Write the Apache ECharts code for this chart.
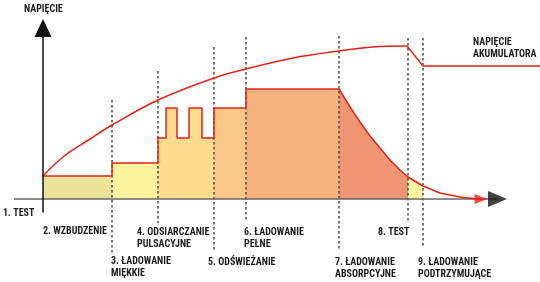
<!DOCTYPE html>
<html><head><meta charset="utf-8">
<script src="https://cdn.jsdelivr.net/npm/echarts@6/dist/echarts.min.js"></script>
<style>html,body{margin:0;padding:0;background:#fff}#c{width:540px;height:282px}</style>
</head><body><div id="c"></div>
<script>
// Stage boundaries (time units)
const stageEdges = [0, 69, 115, 171, 203, 296, 365, 380];
const stageColors = ['#E9E39C', '#FBF29C', '#FDDB8F', '#F9C787', '#F5B27F', '#EE9573', '#F8F3A0'];
// Charging current profile [time, value]
const current = [
  [0, 23], [69, 23], [69, 36], [115, 36], [115, 61], [123, 61], [123, 91], [134, 91],
  [134, 61], [146, 61], [146, 91], [159, 91], [159, 61], [171, 61], [171, 91], [203, 91],
  [203, 110], [296, 110], [307, 92], [317, 77], [327, 63], [337, 51], [347, 39], [357, 29],
  [365, 22], [380, 13], [397, 6], [417, 2], [432, 0.3], [438, 0]
];
// Battery voltage [time, value]
const voltageRise = [[0, 23], [20, 42], [47, 60], [69, 74], [115, 99], [171, 121], [203, 130], [250, 141], [296, 148], [330, 152], [364, 153]];
const voltageFloat = [[364, 153], [380, 133], [497, 133]];
// Stage divider lines
const dividerX = [69, 115, 171, 203, 296, 365, 380];
const dividerTop = [99, 128, 152, 162, 163, 161, 161];
const dividerBottom = [-55, -24, -51, -21, -51, -24, -49];
// Axis ranges
const xStart = -29, xArrow = 454.5, xEnd = 497;
const yRange = [-13, 171];
// Texts
const stageLabels = [
  '1. TEST', '2. WZBUDZENIE', '3. ŁADOWANIE\nMIĘKKIE', '4. ODSIARCZANIE\nPULSACYJNE',
  '5. ODŚWIEŻANIE', '6. ŁADOWANIE\nPEŁNE', '7. ŁADOWANIE\nABSORPCYJNE', '8. TEST',
  '9. ŁADOWANIE\nPODTRZYMUJĄCE'
];
const axisTitle = 'NAPIĘCIE';
const voltageTitle = 'NAPIĘCIE\nAKUMULATORA';

const labelPos = [[3, 213], [43, 231], [111, 261], [137, 232], [208, 262], [244, 232], [335, 262], [378, 232], [418, 262]];
const FONT = "bold 10px 'Liberation Sans Narrow','Arial Narrow','Roboto Condensed',sans-serif";
const RED = '#E2231A';

function stagePoints(a, b) {
  let first = null, last = null;
  const inner = [];
  current.forEach(p => {
    if (p[0] === a) first = p;
    if (p[0] === b && last === null) last = p;
    if (p[0] > a && p[0] < b) inner.push(p);
  });
  return [first].concat(inner, [last]).filter(Boolean);
}

const series = [];
for (let i = 0; i < stageEdges.length - 1; i++) {
  series.push({
    type: 'line', data: stagePoints(stageEdges[i], stageEdges[i + 1]), symbol: 'none',
    lineStyle: { width: 0 }, areaStyle: { color: stageColors[i], opacity: 1 }, z: 1, silent: true
  });
}
dividerX.forEach((x, i) => {
  series.push({
    type: 'line', data: [[x, dividerTop[i]], [x, dividerBottom[i]]], symbol: 'none', clip: false,
    lineStyle: { color: '#4a4a4a', width: 1.5, type: [2.5, 2.5] }, z: 4, silent: true
  });
});
// x axis line
series.push({ type: 'line', data: [[xStart, 0], [xArrow, 0]], symbol: 'none', clip: false, lineStyle: { color: '#666', width: 1.5 }, z: 5, silent: true });
series.push({ type: 'line', data: current, symbol: 'none', lineStyle: { color: RED, width: 1.5 }, z: 5 });
series.push({ type: 'line', data: voltageRise, smooth: 0.35, symbol: 'none', lineStyle: { color: RED, width: 1.5 }, z: 5 });
series.push({ type: 'line', data: voltageFloat, symbol: 'none', clip: false, lineStyle: { color: RED, width: 1.5 }, z: 5 });
// arrowheads
series.push({ type: 'scatter', data: [current[current.length - 1]], symbol: 'triangle', symbolRotate: -90, symbolSize: [10, 13], itemStyle: { color: RED }, z: 7, clip: false, silent: true });
series.push({ type: 'scatter', data: [[xArrow, 0]], symbol: 'triangle', symbolRotate: -90, symbolSize: [16, 19], itemStyle: { color: '#111' }, z: 7, clip: false, silent: true });

const graphic = stageLabels.map((t, i) => ({
  type: 'text', x: labelPos[i][0], y: labelPos[i][1] - 6.25,
  style: { text: t, font: FONT, fill: '#1e1e1e', verticalAlign: 'top', lineHeight: 12.5 }
}));
graphic.push({ type: 'text', x: 24, y: 9 - 6.25, style: { text: axisTitle, font: FONT, fill: '#1e1e1e', verticalAlign: 'top', lineHeight: 12.5 } });
graphic.push({ type: 'text', x: 473, y: 43 - 6.25, style: { text: voltageTitle, font: FONT, fill: '#1e1e1e', verticalAlign: 'top', lineHeight: 12 } });

const chart = echarts.init(document.getElementById('c'), null, { renderer: 'canvas' });
chart.setOption({
  animation: false,
  grid: { left: 14, right: 0, top: 28, bottom: 70 },
  xAxis: {
    type: 'value', min: xStart, max: xEnd,
    axisLine: { show: false },
    axisTick: { show: false }, axisLabel: { show: false }, splitLine: { show: false }
  },
  yAxis: {
    type: 'value', min: yRange[0], max: yRange[1], z: 6,
    axisLine: { symbol: ['none', 'triangle'], symbolSize: [17, 18], lineStyle: { color: '#111', width: 1.5 } },
    axisTick: { show: false }, axisLabel: { show: false }, splitLine: { show: false }
  },
  series: series
});
// second pass adds the texts (also refreshes the line layout)
chart.setOption({ graphic: graphic });
</script></body></html>
